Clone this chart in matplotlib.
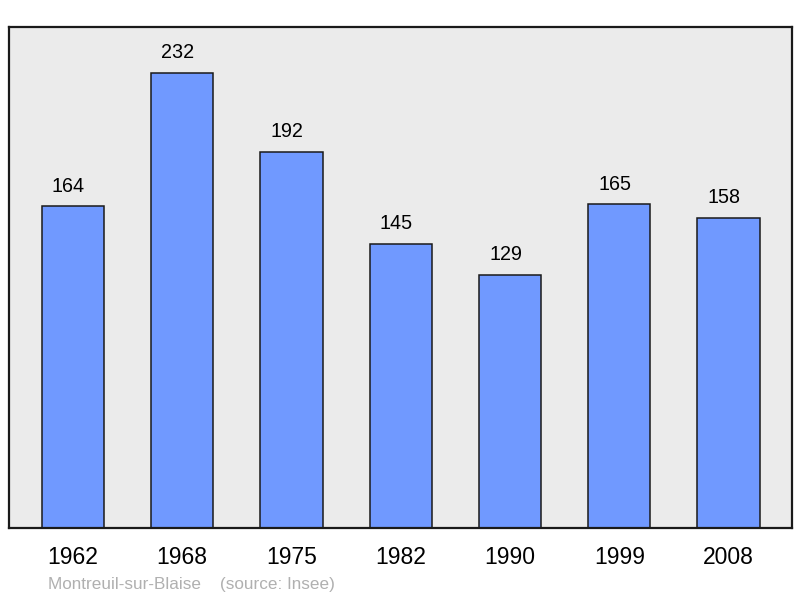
import matplotlib
matplotlib.use("Agg")
import matplotlib.pyplot as plt

years = ["1962", "1968", "1975", "1982", "1990", "1999", "2008"]
population = [164, 232, 192, 145, 129, 165, 158]

plt.rcParams['font.family'] = ['Liberation Sans', 'DejaVu Sans']

fig = plt.figure(figsize=(8, 5.98), dpi=100)
# axes box in figure fractions (pixels: x 9..792, y 27..528)
ax = fig.add_axes([9 / 800, 1 - 528 / 598, 783 / 800, 501 / 598])
ax.set_facecolor("#ebebeb")

x = list(range(len(years)))
ax.bar(x, population, width=0.57, color="#7099ff", edgecolor="#1a1a1a",
       linewidth=1.1, zorder=2)
for xi, v in zip(x, population):
    ax.text(xi - 0.04, v + 10.3, str(v), ha="center", va="center", fontsize=14.2,
            color="black")

ax.set_xlim(-0.585, 6.58)
ax.set_ylim(0, 255.5)
ax.set_yticks([])
ax.set_xticks(x)
ax.set_xticklabels(years, fontsize=16.5)
ax.tick_params(axis="x", length=0, pad=13)
for s in ax.spines.values():
    s.set_linewidth(1.6)
    s.set_color("#1a1a1a")

fig.text(48 / 800, 1 - 584 / 598, "Montreuil-sur-Blaise    (source: Insee)",
         fontsize=12.3, color="#b0b0b0", va="center", ha="left")

fig.savefig("out.png", dpi=100)
